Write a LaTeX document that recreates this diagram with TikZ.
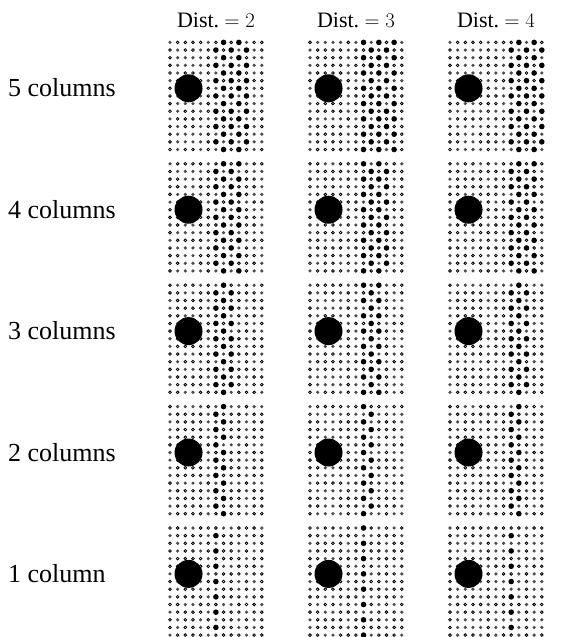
\documentclass[tikz,border=0pt]{standalone}
\usepackage{fontspec}
\setmainfont{Liberation Serif}
\begin{document}
\begin{tikzpicture}[x=1pt,y=-1pt,
  lab/.style={font=\fontsize{26}{30}\selectfont, inner sep=0pt},
  head/.style={font=\fontsize{22}{26}\selectfont, inner sep=0pt},
  ringdot/.style={draw=black, fill=white, line width=0.8pt},
  graydot/.style={fill=black!70},
  bigdot/.style={fill=black},
]
\useasboundingbox (0,0) rectangle (563,637);
\node[head] (h2) at (216,20) {Dist.~$=2$};
\node[head] (h3) at (356,20) {Dist.~$=3$};
\node[head] (h4) at (496,20) {Dist.~$=4$};
\foreach \k/\n/\txt in {0/5/5 columns, 1/4/4 columns, 2/3/3 columns, 3/2/2 columns, 4/1/1 column} {
  \pgfmathsetmacro\ly{88+121.4*\k}
  \node[lab, anchor=west] (l\k) at (8, \ly) {\txt};
  \foreach \j/\d in {0/2,1/3,2/4} {
    \pgfmathsetmacro\xo{170+140*\j}
    \pgfmathsetmacro\yo{42.4+121.4*\k}
    \pgfmathtruncatemacro\st{4+\d}
    \pgfmathtruncatemacro\en{4+\d+\n-1}
    \foreach \r in {0,...,14} {
      \foreach \c in {0,...,12} {
        \pgfmathtruncatemacro\big{((\c>=\st) && (\c<=\en) && (mod(\r+\c,2)==1)) ? 1 : 0}
        \pgfmathtruncatemacro\g{(mod(\r*\r*7+\c*\c*3+\r*\c*5+\k*11+\j*13,5)<2) ? 1 : 0}
        \pgfmathsetmacro\px{\xo+7.65*\c}
        \pgfmathsetmacro\py{\yo+7.65*\r}
        \ifnum\big=1
          \fill[bigdot] (\px,\py) circle (2.8);
        \else
          \ifnum\g=1
            \fill[graydot] (\px,\py) circle (1.8);
          \else
            \draw[ringdot] (\px,\py) circle (1.35);
          \fi
        \fi
      }
    }
    \fill[bigdot] (\xo+18.5, \yo+45.9) circle (14);
  }
}
\end{tikzpicture}
\end{document}
